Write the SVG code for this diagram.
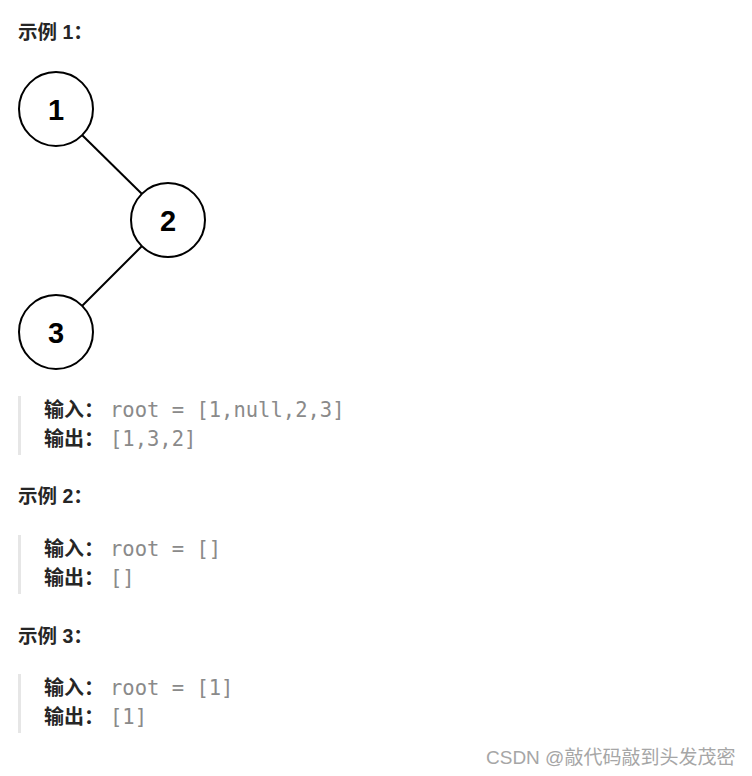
<svg xmlns="http://www.w3.org/2000/svg" width="752" height="776" viewBox="0 0 752 776">
<style>
.h{font-family:"Liberation Sans","Noto Sans CJK SC",sans-serif;font-weight:bold;font-size:19.5px;fill:#262626}
.k{font-family:"Liberation Sans","Noto Sans CJK SC",sans-serif;font-weight:bold;font-size:20px;fill:#262626}
.m{font-family:"DejaVu Sans Mono","Liberation Mono",monospace;font-size:20.5px;fill:#8a8a8a}
.node circle{fill:#fff;stroke:#000;stroke-width:2}
.node text{font-family:"Liberation Sans",Arial,sans-serif;font-weight:bold;font-size:29px;fill:#000;text-anchor:middle}
.bar{fill:#e6e6e6}
.wm{font-family:"Liberation Sans","Noto Sans CJK SC",sans-serif;font-size:19px;fill:#a6a6a6}
</style>
<rect width="752" height="776" fill="#fff"/>
<text class="h" x="18" y="39">示例 1：</text>
<g id="connectors" stroke="#000" stroke-width="2">
<line x1="82" y1="135" x2="142" y2="194"/>
<line x1="142" y1="246" x2="82" y2="306"/>
</g>
<g id="n1" class="node"><circle cx="56" cy="109" r="37"/><text x="56" y="120">1</text></g>
<g id="n2" class="node"><circle cx="168" cy="220" r="37"/><text x="168" y="231">2</text></g>
<g id="n3" class="node"><circle cx="56" cy="332" r="37"/><text x="56" y="343">3</text></g>
<rect class="bar" x="18" y="396" width="3" height="59"/>
<text class="k" x="44" y="417">输入：</text><text class="m" x="110" y="417">root = [1,null,2,3]</text>
<text class="k" x="44" y="446">输出：</text><text class="m" x="110" y="446">[1,3,2]</text>
<text class="h" x="18" y="503">示例 2：</text>
<rect class="bar" x="18" y="535" width="3" height="59"/>
<text class="k" x="44" y="556">输入：</text><text class="m" x="110" y="556">root = []</text>
<text class="k" x="44" y="585">输出：</text><text class="m" x="110" y="585">[]</text>
<text class="h" x="18" y="643">示例 3：</text>
<rect class="bar" x="18" y="674" width="3" height="59"/>
<text class="k" x="44" y="695">输入：</text><text class="m" x="110" y="695">root = [1]</text>
<text class="k" x="44" y="724">输出：</text><text class="m" x="110" y="724">[1]</text>
<text class="wm" x="486" y="764">CSDN @敲代码敲到头发茂密</text>
</svg>
